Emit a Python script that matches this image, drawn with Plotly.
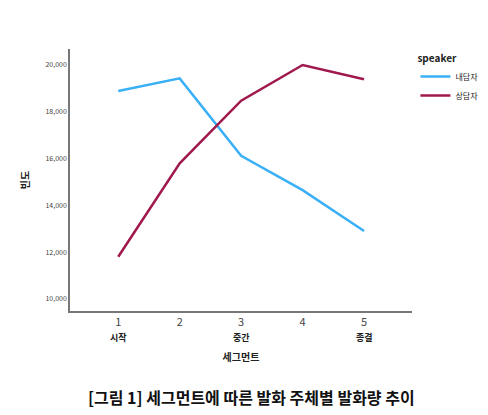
import plotly.graph_objects as go

segments = [1, 2, 3, 4, 5]
tick_labels = ["1", "2", "3", "4", "5"]
phase_positions = [1, 3, 5]
phase_labels = ["시작", "중간", "종결"]
client = [18860, 19400, 16100, 14640, 12900]
counselor = [11800, 15780, 18450, 19970, 19360]
y_ticks = [10000, 12000, 14000, 16000, 18000, 20000]

fig = go.Figure()
fig.add_trace(go.Scatter(x=segments, y=client, mode="lines", name="내담자",
                         line=dict(color="#3AB0F7", width=2.5)))
fig.add_trace(go.Scatter(x=segments, y=counselor, mode="lines", name="상담자",
                         line=dict(color="#A0184D", width=2.5)))
font = "Noto Sans CJK KR"
annos = [dict(text=f"<b>{t}</b>", x=p, xref="x", y=-0.1, yref="paper",
              showarrow=False, yanchor="middle", font=dict(size=9, color="#222"))
         for p, t in zip(phase_positions, phase_labels)]
annos.append(dict(text="<b>[그림 1] 세그먼트에 따른 발화 주체별 발화량 추이</b>",
                  xref="paper", yref="paper", x=0.53, y=-0.33,
                  xanchor="center", yanchor="middle", showarrow=False,
                  font=dict(size=16, color="#111")))
fig.update_layout(
    width=488, height=415, plot_bgcolor="white", paper_bgcolor="white",
    margin=dict(l=62, r=84, t=41, b=112, autoexpand=False),
    font=dict(family=font, color="#222", size=9),
    legend=dict(title=dict(text="<b>speaker</b>", font=dict(size=10)),
                x=1.01, y=1.0, xanchor="left", yanchor="top",
                font=dict(size=8), tracegroupgap=0, itemwidth=30),
    xaxis=dict(range=[0.215, 5.78], tickvals=segments, ticktext=tick_labels,
               automargin=False,
               showgrid=False, zeroline=False, showline=True, linecolor="#777",
               linewidth=1.5, ticks="", tickfont=dict(size=11, color="#444"),
               title=dict(text="<b>세그먼트</b>", font=dict(size=10), standoff=26)),
    yaxis=dict(range=[9489, 20652], tickvals=y_ticks, tickformat=",",
               automargin=False,
               showgrid=False, zeroline=False, showline=True, linecolor="#777",
               linewidth=1.5, ticks="", tickfont=dict(size=7, color="#444"),
               title=dict(text="<b>빈도</b>", font=dict(size=10), standoff=14)),
    annotations=annos,
)
fig.write_html("out.html")
